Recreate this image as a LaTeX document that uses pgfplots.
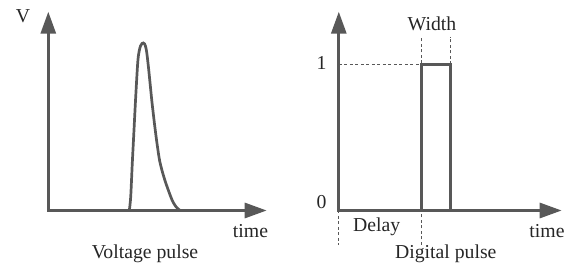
\documentclass[border=0pt]{standalone}
\usepackage{fontspec}
\setmainfont{Liberation Serif}
\usepackage{pgfplots}
\pgfplotsset{compat=1.18}
\usetikzlibrary{arrows.meta}
\definecolor{gc}{RGB}{88,88,88}
\begin{document}
\begin{tikzpicture}[font=\fontsize{19.8}{23}\selectfont]
\path[use as bounding box] (0,0) rectangle (571bp,267bp);
\pgfplotsset{
  pulseaxis/.style={
    axis lines=left,
    clip=false,
    anchor=origin,
    xmin=0, ymin=0,
    xtick=\empty,
    major tick length=0pt,
    axis line style={line width=3bp, draw=gc, line cap=rect, -{Triangle[length=22bp,width=15bp]}},
  },
  dash/.style={draw=gc, line width=0.8bp, dash pattern=on 3bp off 2.5bp, forget plot},
}
% ---------------- Voltage pulse ----------------
\begin{axis}[pulseaxis,
  at={(48.3bp,56.5bp)},
  x=1bp, y=1bp,
  xmax=218.4, ymax=198.8,
  ytick=\empty,
]
\addplot[draw=gc, line width=2.7bp, smooth, tension=0.5] coordinates {
 (81,0) (82.4,13.5) (84,47.5) (85.7,80.5) (87.4,113.5) (89.4,147.5)
 (90.7,158.5) (92.2,164.5) (93.7,167) (95,167.5)
 (96.3,166.6) (97.3,164) (98.3,159) (99.3,151) (100.5,140) (102,125)
 (103.5,110) (105.2,95) (107,80) (109,65) (111.3,50) (114,39) (117,29)
 (120.5,19) (124,10) (127.5,4) (131.7,0)
};
\node[anchor=base, text=black!85] at (axis cs:-25.3,187.8) {V};
\node[anchor=base, text=black!85] at (axis cs:202.2,-26.8) {time};
\node[anchor=base, text=black!85] at (axis cs:96.7,-47.8) {Voltage pulse};
\end{axis}
% ---------------- Digital pulse ----------------
\begin{axis}[pulseaxis,
  at={(338.8bp,56.5bp)},
  x=1bp, y=146bp,
  xmax=222.9, ymax=1.3616,
  ytick={0,1},
  yticklabels={\raisebox{7bp}{0},1},
  yticklabel style={anchor=base, inner sep=0pt, xshift=-17.3bp, yshift=-5bp, text=black!85},
]
\addplot[dash] coordinates {(0,1) (82.8,1)};
\addplot[dash] coordinates {(0,0) (0,-0.236)};
\addplot[dash] coordinates {(82.8,-0.236) (82.8,1.19)};
\addplot[dash] coordinates {(111.2,1) (111.2,1.19)};
\addplot[draw=gc, line width=3bp, line join=miter] coordinates {
 (82.8,0) (82.8,1) (111.2,1) (111.2,0)
};
\node[anchor=base, text=black!85] at (axis cs:37.9,-0.145) {Delay};
\node[anchor=base, text=black!85] at (axis cs:93.2,1.2315) {Width};
\node[anchor=base, text=black!85] at (axis cs:208.2,-0.1836) {time};
\node[anchor=base, text=black!85] at (axis cs:107,-0.327) {Digital pulse};
\end{axis}
\end{tikzpicture}
\end{document}
